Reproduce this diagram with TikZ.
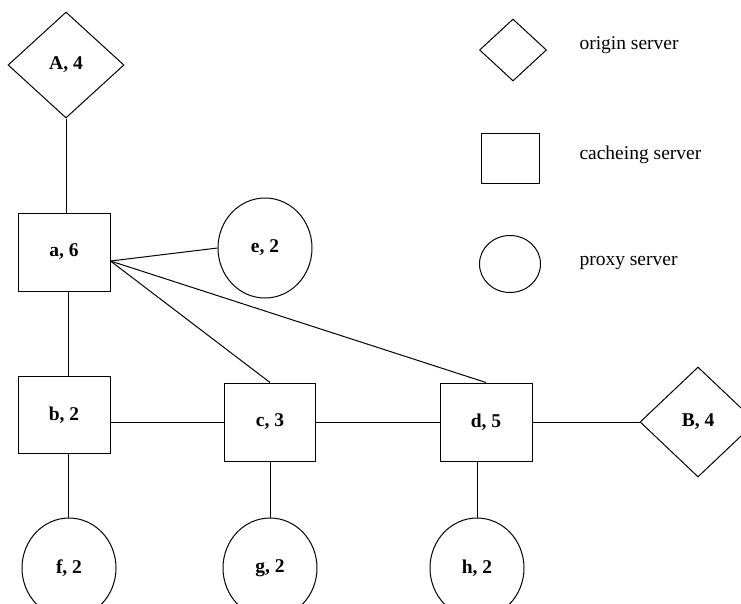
\documentclass[tikz,border=0pt]{standalone}
\usepackage{fontspec}
\setmainfont{Liberation Serif}
\usetikzlibrary{shapes.geometric}

\begin{document}
\begin{tikzpicture}[x=1pt, y=-1pt, line width=1pt,
    every node/.style={font=\fontsize{19.5}{23}\selectfont},
    origin/.style={draw, diamond, inner sep=0pt, font=\fontsize{19.5}{23}\selectfont\bfseries},
    cache/.style={draw, rectangle, inner sep=0pt, font=\fontsize{19.5}{23}\selectfont\bfseries},
    proxy/.style={draw, ellipse, inner sep=0pt, minimum width=94pt, minimum height=100pt,
                  font=\fontsize{19.5}{23}\selectfont\bfseries},
    legtext/.style={anchor=west, inner sep=0pt}]
      \useasboundingbox (0,0) rectangle (741,603);
      \clip (0,0) rectangle (741,603);
      %
      \node[origin, minimum width=116pt, minimum height=106pt] (A) at (66,65) {A, 4};
      \node[origin, minimum width=116pt, minimum height=110pt] (B) at (698,422) {B, 4};
      %%
      \node[cache, minimum width=92pt, minimum height=78pt] (a) at (64,252) {a, 6};   % top left
      \node[cache, minimum width=92pt, minimum height=77pt] (b) at (64,415) {b, 2};
      \node[cache, minimum width=91pt, minimum height=78pt] (c) at (270,422) {c, 3};
      \node[cache, minimum width=92pt, minimum height=78pt] (d) at (486,422) {d, 5};
      %%
      \node[proxy] (e) at (265,248) {e, 2};
      \node[proxy] (f) at (69,568) {f, 2};                                          % bottom row
      \node[proxy] (g) at (270,568) {g, 2};
      \node[proxy] (h) at (477,568) {h, 2};
      %
      \coordinate (ahub) at ([yshift=-9pt]a.east);
      \draw (A.south) -- (A.south |- a.north);
      \draw ([xshift=4pt]a.south) -- ([xshift=4pt]a.south |- b.north);
      \draw ([xshift=4pt]b.south) -- ([xshift=4pt]b.south |- f.north);
      \draw (c.south) -- (g.north);
      \draw (h.north |- d.south) -- (h.north);
      \draw (ahub) -- (e.west);
      \draw (ahub) -- (c.north);
      \draw (ahub) -- (d.north);
      \draw (c.west -| b.east) -- (c.west);
      \draw (c.east) -- (d.west);
      \draw (d.east) -- (B.west);
      %% legend
      \node[origin, minimum width=67pt, minimum height=62pt] (legA) at (513,50) {};
      \node[cache, minimum width=58pt, minimum height=50pt] (legb) at (510,158) {};
      \node[proxy, minimum width=61pt, minimum height=57pt] (lege) at (510,264) {};
      \node[legtext] (tA) at (579,45) {origin server};
      \node[legtext] (tb) at (579,155) {cacheing server};
      \node[legtext] (te) at (579,263) {proxy server};
      %
    \end{tikzpicture}
\end{document}
